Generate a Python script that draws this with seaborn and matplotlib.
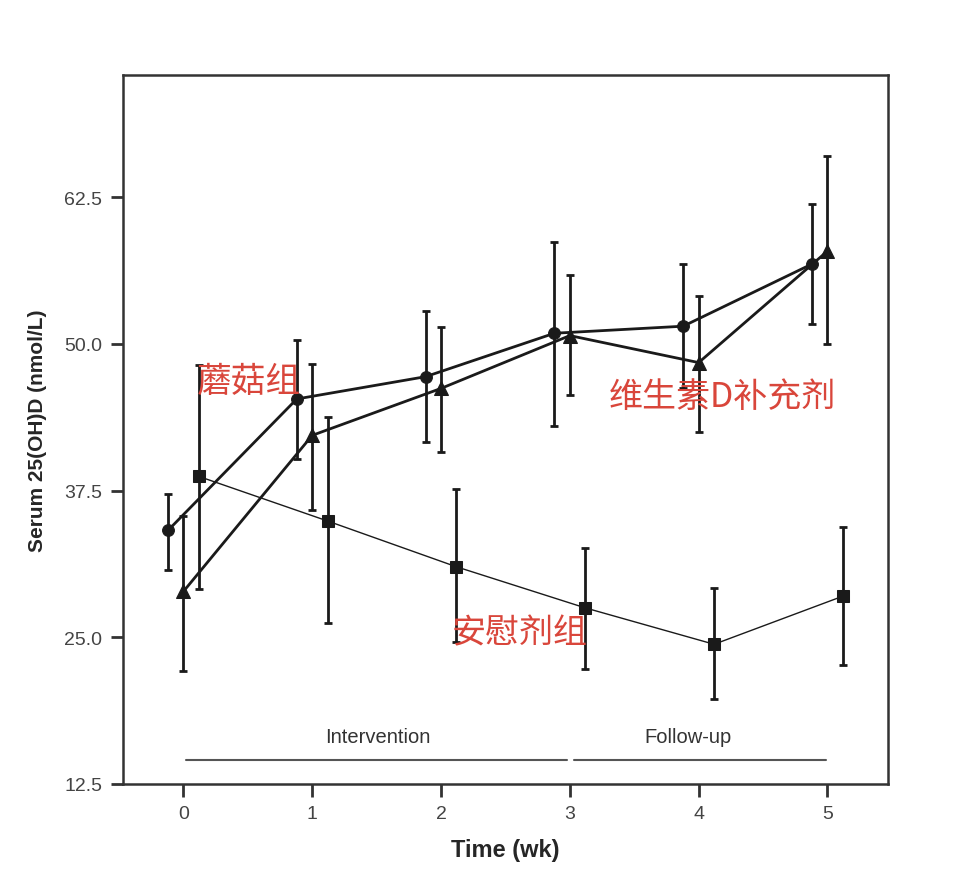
"""Serum 25(OH)D over time for three groups, with SD error bars."""

import matplotlib.pyplot as plt
import numpy as np
import pandas as pd
import seaborn as sns

weeks = [0, 1, 2, 3, 4, 5]

# mushroom group (circles)
mushroom_mean = [34.1, 45.3, 47.2, 50.9, 51.5, 56.8]
mushroom_lo = [30.7, 40.2, 41.6, 43.0, 46.2, 51.7]
mushroom_hi = [37.2, 50.3, 52.8, 58.7, 56.8, 61.9]

# vitamin D supplement group (triangles)
vitd_mean = [28.9, 42.2, 46.2, 50.7, 48.4, 57.9]
vitd_lo = [22.1, 35.8, 40.8, 45.6, 42.5, 50.0]
vitd_hi = [35.3, 48.3, 51.4, 55.9, 54.1, 66.0]

# placebo group (squares)
placebo_mean = [38.7, 34.9, 31.0, 27.5, 24.4, 28.5]
placebo_lo = [29.1, 26.2, 24.6, 22.3, 19.7, 22.6]
placebo_hi = [48.2, 43.8, 37.6, 32.6, 29.2, 34.4]

group_names = ["mushroom", "vitd", "placebo"]
y_ticks = [12.5, 25.0, 37.5, 50.0, 62.5]

sns.set_theme(style="white")
plt.rcParams["font.family"] = ["Liberation Sans", "Noto Sans CJK SC"]

frames = []
for name, mean, lo, hi, shift in [
    ("mushroom", mushroom_mean, mushroom_lo, mushroom_hi, -0.12),
    ("vitd", vitd_mean, vitd_lo, vitd_hi, 0.0),
    ("placebo", placebo_mean, placebo_lo, placebo_hi, 0.12),
]:
    frames.append(
        pd.DataFrame(
            {
                "group": name,
                "week": np.array(weeks) + shift,
                "mean": mean,
                "lo": lo,
                "hi": hi,
            }
        )
    )
df = pd.concat(frames, ignore_index=True)

fig = plt.figure(figsize=(9.6, 8.79), dpi=100)
ax = fig.add_axes([0.128, 0.107, 0.797, 0.8065])

styles = {
    "mushroom": dict(marker="o", lw=2.0, ms=8.5),
    "vitd": dict(marker="^", lw=2.0, ms=10),
    "placebo": dict(marker="s", lw=1.0, ms=9),
}
for name in group_names:
    sub = df[df["group"] == name]
    st = styles[name]
    sns.lineplot(
        data=sub,
        x="week",
        y="mean",
        ax=ax,
        color="#1a1a1a",
        linewidth=st["lw"],
        marker=st["marker"],
        markersize=st["ms"],
        markeredgecolor="#1a1a1a",
        legend=False,
    )
    ax.errorbar(
        sub["week"],
        sub["mean"],
        yerr=[sub["mean"] - sub["lo"], sub["hi"] - sub["mean"]],
        fmt="none",
        ecolor="#1a1a1a",
        elinewidth=2,
        capsize=3,
        capthick=2,
    )

# phase bars
ax.plot([0.02, 2.98], [14.5, 14.5], color="#555555", lw=1.5)
ax.plot([3.03, 4.99], [14.5, 14.5], color="#555555", lw=1.5)
ax.text(1.51, 16.5, "Intervention", ha="center", va="center",
        fontsize=14.5, color="#333333")
ax.text(3.92, 16.5, "Follow-up", ha="center", va="center",
        fontsize=14.5, color="#333333")

# group labels
red = "#d9463b"
cjk = ["Noto Sans CJK SC", "DejaVu Sans"]
ax.text(0.1, 46.8, "蘑菇组", fontsize=25, color=red, va="center",
        family=cjk)
ax.text(3.30, 45.5, "维生素D补充剂", fontsize=24.5, color=red, va="center",
        family=cjk)
ax.text(2.08, 25.4, "安慰剂组", fontsize=24.5, color=red, va="center",
        family=cjk)

ax.set_xlim(-0.47, 5.47)
ax.set_ylim(12.5, 72.9)
ax.set_xticks(weeks)
ax.set_yticks(y_ticks)
ax.set_yticklabels([f"{v:.1f}" for v in y_ticks])
ax.tick_params(axis="both", direction="out", length=9, width=2,
               color="#333333", labelsize=14, labelcolor="#444444",
               pad=6, bottom=True, left=True)
for sp in ax.spines.values():
    sp.set_color("#333333")
    sp.set_linewidth(1.8)

ax.set_xlabel("Time (wk)", fontsize=17, fontweight="bold", labelpad=12)
ax.set_ylabel("Serum 25(OH)D (nmol/L)", fontsize=15, fontweight="bold",
              labelpad=12)

fig.savefig("out.png", dpi=100)
